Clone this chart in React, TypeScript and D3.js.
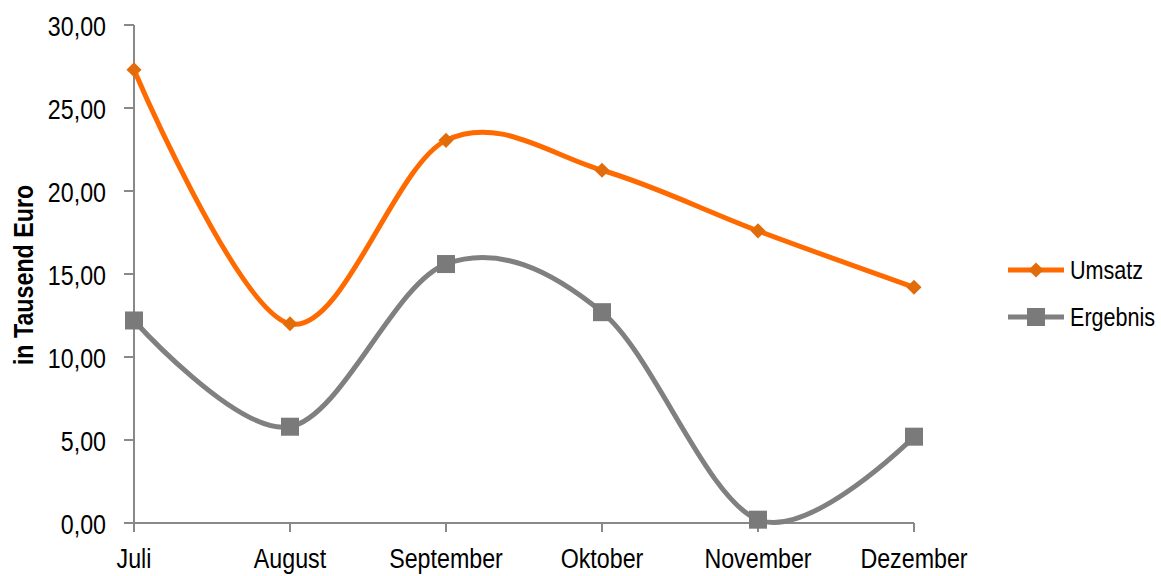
import * as d3 from "d3";

const MONTHS = ["Juli", "August", "September", "Oktober", "November", "Dezember"];
const UMSATZ = [27.3, 12.0, 23.05, 21.25, 17.6, 14.2];
const ERGEBNIS = [12.2, 5.8, 15.6, 12.7, 0.2, 5.2];
const Y_TICKS = [0, 5, 10, 15, 20, 25, 30];

const FONT = "'Liberation Sans Narrow', 'Arial Narrow', 'Liberation Sans', Arial, sans-serif";
const NARROW = 0.83;
const ORANGE = "#ff6a00";
const ORANGE_MARK = "#e36c0a";
const GRAY = "#808080";
const GRAY_MARK = "#7a7a7a";
const AXIS = "#898989";

export default function App() {
  const width = 1161;
  const height = 576;

  const x = d3.scalePoint<string>().domain(MONTHS).range([134, 914]);
  const y = d3.scaleLinear().domain([0, 30]).range([523, 25]);

  const line = d3
    .line<number>()
    .x((_, i) => x(MONTHS[i])!)
    .y((d) => y(d))
    .curve(d3.curveCardinal.tension(0));

  const fmt = (v: number) => v.toFixed(2).replace(".", ",");
  const diamond = d3.symbol().type(d3.symbolDiamond2).size(145);

  return (
    <svg
      width={width}
      height={height}
      style={{ position: "absolute", left: 0, top: 0, background: "#fff" }}
      fontFamily={FONT}
    >
      {/* y axis */}
      <line x1={134} x2={134} y1={y(30)} y2={y(0)} stroke={AXIS} strokeWidth={2} />
      {Y_TICKS.map((t) => (
        <g key={t}>
          <line x1={124} x2={134} y1={y(t)} y2={y(t)} stroke={AXIS} strokeWidth={2} />
          <text
            transform={`translate(106,${y(t)}) scale(${NARROW},1)`}
            dy="0.4em"
            textAnchor="end"
            fontSize={28}
            fill="#000"
          >
            {fmt(t)}
          </text>
        </g>
      ))}
      {/* x axis */}
      <line x1={134} x2={x("Dezember")!} y1={y(0)} y2={y(0)} stroke={AXIS} strokeWidth={2} />
      {MONTHS.map((m) => (
        <g key={m}>
          <line x1={x(m)} x2={x(m)} y1={y(0)} y2={y(0) + 9} stroke={AXIS} strokeWidth={2} />
          <text
            transform={`translate(${x(m)},568) scale(${NARROW},1)`}
            textAnchor="middle"
            fontSize={28}
            fill="#000"
          >
            {m}
          </text>
        </g>
      ))}

      <text
        transform={`translate(33,275) rotate(-90) scale(${NARROW},1)`}
        textAnchor="middle"
        fontSize={28}
        fontWeight="bold"
        fill="#000"
      >
        in Tausend Euro
      </text>

      {/* series */}
      <path d={line(ERGEBNIS)!} fill="none" stroke={GRAY} strokeWidth={5} />
      <path d={line(UMSATZ)!} fill="none" stroke={ORANGE} strokeWidth={5} />

      {ERGEBNIS.map((v, i) => (
        <rect
          key={"e" + i}
          x={x(MONTHS[i])! - 9}
          y={y(v) - 9}
          width={18}
          height={18}
          fill={GRAY_MARK}
        />
      ))}
      {UMSATZ.map((v, i) => (
        <path
          key={"u" + i}
          d={diamond()!}
          transform={`translate(${x(MONTHS[i])},${y(v)})`}
          fill={ORANGE_MARK}
        />
      ))}

      {/* legend */}
      <g transform="translate(1008,270)">
        <line x1={0} x2={56} stroke={ORANGE} strokeWidth={5} />
        <path d={diamond()!} transform="translate(28,0)" fill={ORANGE_MARK} />
        <text transform={`translate(62,0) scale(${NARROW},1)`} dy="0.36em" fontSize={26} fill="#000">
          Umsatz
        </text>
      </g>
      <g transform="translate(1008,317)">
        <line x1={0} x2={56} stroke={GRAY} strokeWidth={5} />
        <rect x={19} y={-9} width={18} height={18} fill={GRAY_MARK} />
        <text transform={`translate(62,0) scale(${NARROW},1)`} dy="0.36em" fontSize={26} fill="#000">
          Ergebnis
        </text>
      </g>
    </svg>
  );
}
